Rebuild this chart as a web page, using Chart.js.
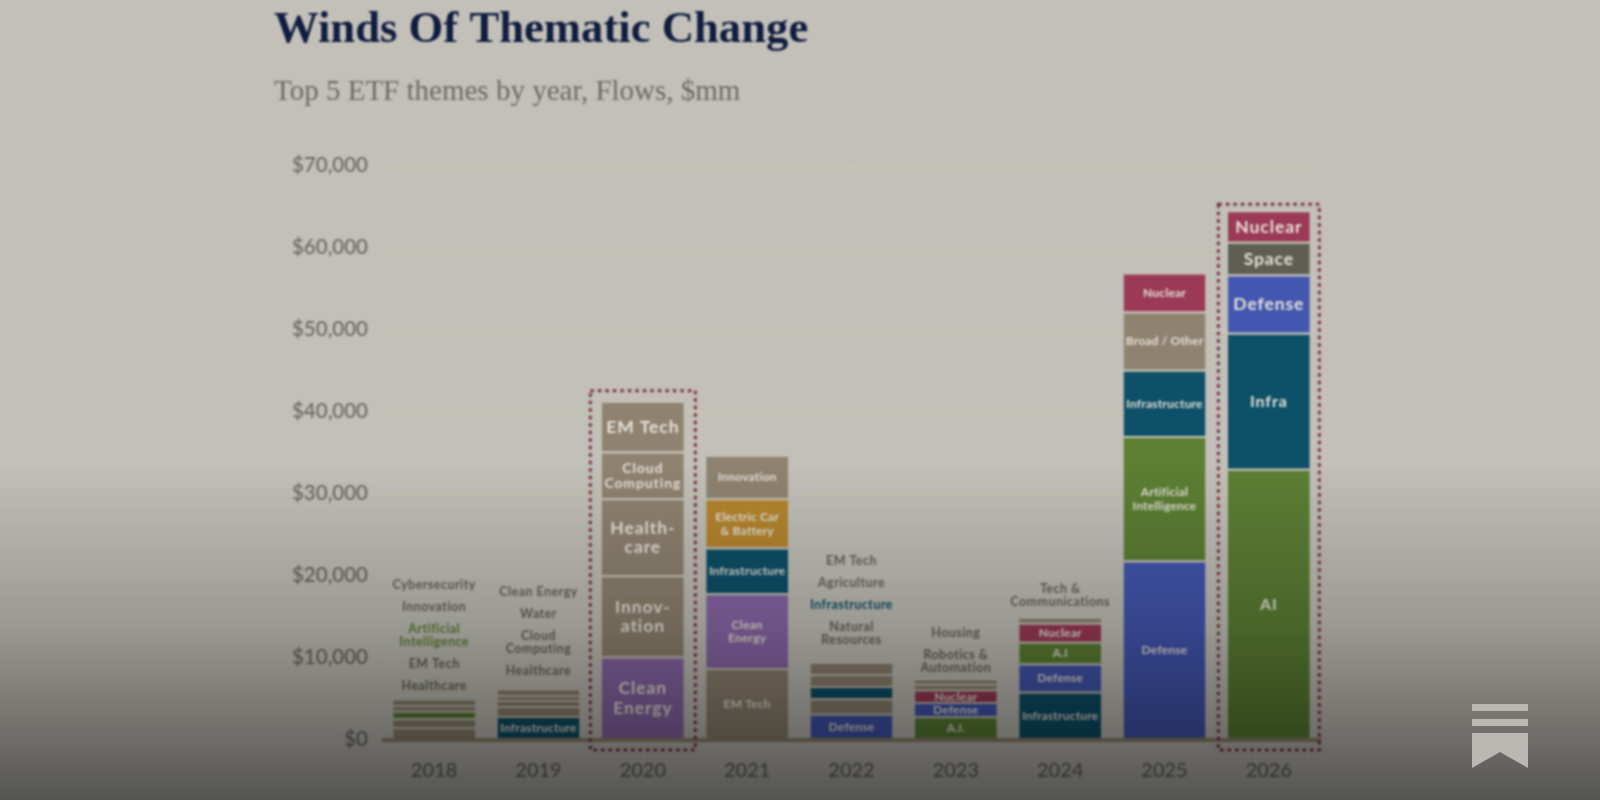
<!DOCTYPE html>
<html>
<head>
<meta charset="utf-8">
<title>Winds Of Thematic Change</title>
<script src="https://cdn.jsdelivr.net/npm/chart.js@4"></script>
<style>
  html, body { margin: 0; width: 1600px; height: 800px; overflow: hidden; background: #c2c0b8; }
  #wrap { position: absolute; left: 274px; top: 0; width: 1066px; height: 800px; filter: blur(0.8px); }
  #shade { position: absolute; left: 0; top: 0; width: 1600px; height: 800px; pointer-events: none;
    background: linear-gradient(to bottom, rgba(0,0,0,0) 0, rgba(0,0,0,0) 58%, rgba(0,0,0,.2) 78%, rgba(0,0,0,.56) 100%); }
  #mark { position: absolute; left: 1472px; top: 704px; width: 56px; height: 64px; }
</style>
</head>
<body>
<div id="wrap"><canvas id="chart" width="1066" height="800"></canvas></div>
<div id="shade"></div>
<svg id="mark" viewBox="0 0 56 64"><path fill="#b9b8b2" d="M0 0h56v7H0zM0 15h56v7H0zM0 29h56v35L28 48 0 64z"/></svg>
<script>
const years = ['2018', '2019', '2020', '2021', '2022', '2023', '2024', '2025', '2026'];

// flows in $mm, layer1 sits at the bottom of each bar
const layer1 = [1550, 2930, 10200, 8800, 3200, 2900, 5900, 21900, 33100];
const layer2 = [1100, 1220, 9900, 9100, 1900, 1750, 3450, 15200, 16600];
const layer3 = [930, 730, 9400, 5600, 1500, 1500, 2650, 8100, 7100];
const layer4 = [690, 610, 5700, 6000, 1450, 700, 2300, 7100, 4000];
const layer5 = [800, 800, 6200, 5300, 1500, 650, 750, 4750, 3850];

const layer1Names = ['Healthcare', 'Infrastructure', 'Clean\nEnergy', 'EM Tech', 'Defense', 'A.I.', 'Infrastructure', 'Defense', 'AI'];
const layer2Names = ['EM Tech', 'Healthcare', 'Innov-\nation', 'Clean\nEnergy', 'Natural\nResources', 'Defense', 'Defense', 'Artificial\nIntelligence', 'Infra'];
const layer3Names = ['Artificial\nIntelligence', 'Cloud\nComputing', 'Health-\ncare', 'Infrastructure', 'Infrastructure', 'Nuclear', 'A.I', 'Infrastructure', 'Defense'];
const layer4Names = ['Innovation', 'Water', 'Cloud\nComputing', 'Electric Car\n& Battery', 'Agriculture', 'Robotics &\nAutomation', 'Nuclear', 'Broad / Other', 'Space'];
const layer5Names = ['Cybersecurity', 'Clean Energy', 'EM Tech', 'Innovation', 'EM Tech', 'Housing', 'Tech &\nCommunications', 'Nuclear', 'Nuclear'];

const layers = [layer1, layer2, layer3, layer4, layer5];
const layerNames = [layer1Names, layer2Names, layer3Names, layer4Names, layer5Names];

const tan = '#8f8370';
const themeColors = {
  'AI': '#5c7f34', 'A.I.': '#5c7f34', 'A.I': '#5c7f34', 'Artificial Intelligence': '#5c7f34',
  'Infra': '#0e5068', 'Infrastructure': '#0e5068',
  'Defense': '#4357b0',
  'Nuclear': '#9b3a56',
  'Space': '#5f5e55',
  'Clean Energy': '#8a68a8',
  'Electric Car & Battery': '#b5862f'
};

// labels from this layer upwards are written above the bar instead of inside it
const outsideFrom = [0, 1, 5, 5, 1, 3, 4, 5, 5];
const outsideGap = [12, 17, 0, 0, 22, 11, 15, 0, 0];
const boxes = { '2020': { half: 52.5, gap: 10 }, '2026': { half: 50.5, gap: 6 } };
const bigYears = ['2020', '2026'];

function themeColor(layer, i) {
  const name = layerNames[layer][i].replace('\n', ' ');
  if (years[i] === '2019' && name === 'Clean Energy') return tan;
  return themeColors[name] || tan;
}

const labelPlugin = {
  id: 'themeLabels',
  afterDatasetsDraw(chart) {
    const ctx = chart.ctx;
    ctx.save();
    ctx.textAlign = 'center';
    ctx.textBaseline = 'middle';
    years.forEach((year, i) => {
      const big = bigYears.includes(year);
      // names inside the segments
      layers.forEach((values, l) => {
        if (l >= outsideFrom[i]) return;
        const bar = chart.getDatasetMeta(l).data[i];
        const lines = layerNames[l][i].split('\n');
        const name = lines.join(' ');
        let size = big ? 17.5 : 12;
        if (name === 'Cloud Computing' && big) size = 14;
        if (name === 'AI' || name === 'Infra') size = 16;
        ctx.font = '700 ' + size + 'px Lato';
        ctx.letterSpacing = big ? '0.9px' : '0.2px';
        ctx.fillStyle = big ? '#e6e2d8' : '#e3dfd5';
        const mid = (bar.y + bar.base) / 2 + 1;
        lines.forEach((line, k) => {
          ctx.fillText(line, bar.x, mid + (k - (lines.length - 1) / 2) * size * 1.13);
        });
      });
      // names stacked above the bar
      if (outsideFrom[i] < layers.length) {
        const top = chart.getDatasetMeta(layers.length - 1).data[i];
        let y = top.y - outsideGap[i];
        ctx.font = '700 12.5px Lato';
        ctx.letterSpacing = '0.45px';
        for (let l = outsideFrom[i]; l < layers.length; l++) {
          const lines = layerNames[l][i].split('\n');
          const c = themeColor(l, i);
          ctx.fillStyle = c === tan ? '#65635c' : c;
          lines.slice().reverse().forEach(line => {
            ctx.fillText(line, top.x, y);
            y -= 13;
          });
          y -= 9;
        }
      }
    });
    // dotted boxes round the highlighted years
    ctx.letterSpacing = '0px';
    ctx.strokeStyle = '#7b3148';
    ctx.lineWidth = 3;
    ctx.setLineDash([3.5, 4]);
    Object.keys(boxes).forEach(year => {
      const box = boxes[year];
      const top = chart.getDatasetMeta(layers.length - 1).data[years.indexOf(year)];
      const bottom = chart.scales.y.getPixelForValue(0);
      ctx.strokeRect(top.x - box.half, top.y - box.gap, box.half * 2, bottom - top.y + box.gap + 10);
    });
    ctx.restore();
  }
};

new Chart(document.getElementById('chart'), {
  type: 'bar',
  plugins: [labelPlugin],
  data: {
    labels: years,
    datasets: layers.map((values, l) => ({
      label: 'Layer ' + (l + 1),
      data: values,
      backgroundColor: years.map((y, i) => themeColor(l, i)),
      borderColor: '#c8c5b8',
      borderWidth: { top: 2, left: 0, right: 0, bottom: 0 },
      borderSkipped: false
    }))
  },
  options: {
    responsive: false,
    animation: false,
    layout: { padding: { right: 19, left: 0, top: 0, bottom: 0 } },
    datasets: { bar: { categoryPercentage: 1, barPercentage: 0.785 } },
    plugins: {
      legend: { display: false },
      tooltip: { enabled: false },
      title: {
        display: true,
        text: 'Winds Of Thematic Change',
        align: 'start',
        color: '#101c40',
        font: { family: 'Liberation Serif', size: 44.7, weight: 'bold' },
        padding: { top: 4, bottom: 17 }
      },
      subtitle: {
        display: true,
        text: 'Top 5 ETF themes by year, Flows, $mm',
        align: 'start',
        color: '#6c6b64',
        font: { family: 'Liberation Serif', size: 29, weight: 'normal' },
        padding: { top: 0, bottom: 57 }
      }
    },
    scales: {
      x: {
        stacked: true,
        grid: { display: false },
        border: { display: false },
        afterFit(scale) { scale.height = 60; },
        ticks: { color: '#6a6861', padding: 11, font: { family: 'Lato', size: 20, weight: '500' } }
      },
      y: {
        stacked: true,
        min: 0,
        max: 70000,
        border: { display: false },
        afterFit(scale) { scale.width = 108; },
        grid: {
          drawTicks: false,
          color: c => c.tick.value === 0 ? '#93876f' : '#cdc9b4',
          lineWidth: c => c.tick.value === 0 ? 4 : 1
        },
        ticks: {
          stepSize: 10000,
          color: '#6a6861',
          padding: 14,
          labelOffset: -1,
          font: { family: 'Lato', size: 20.5, weight: '500' },
          callback: v => '$' + v.toLocaleString('en-US')
        }
      }
    }
  }
});
</script>
</body>
</html>
